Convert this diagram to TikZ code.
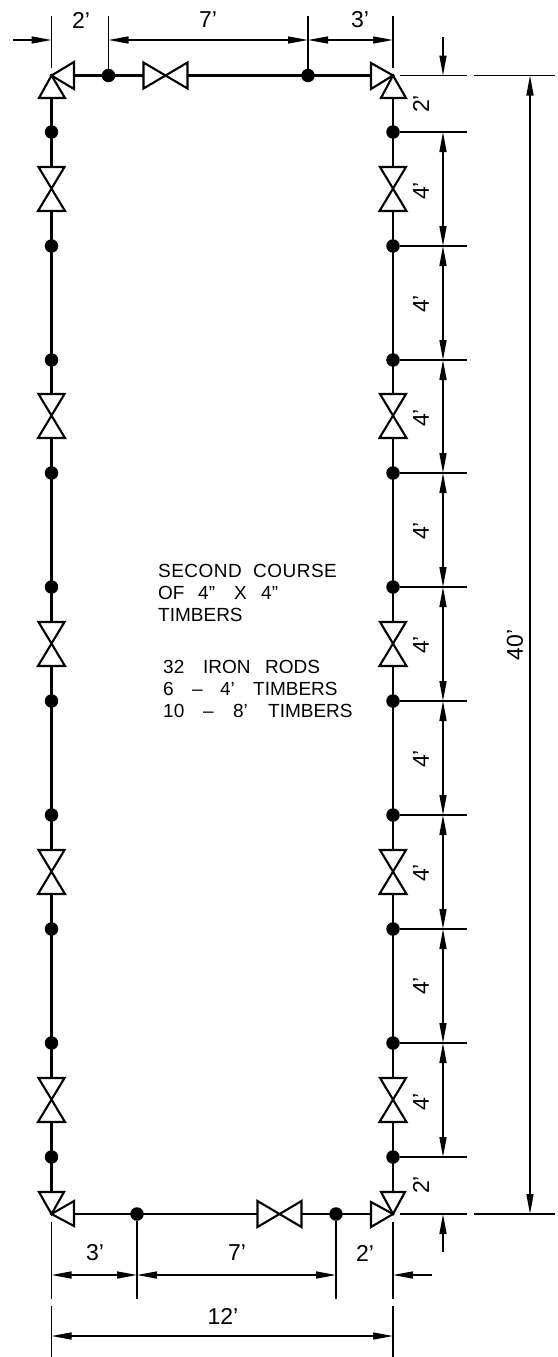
\documentclass[tikz,border=0pt]{standalone}
\usepackage{fontspec}
\setmainfont{Liberation Sans}
\newfontfamily\widefont[LetterSpace=2.5]{Liberation Sans}
\usetikzlibrary{arrows.meta}
\tikzset{
  wall/.style={line width=2.3pt,black},
  ext/.style={line width=1.6pt,black},
  dimline/.style={line width=1.5pt,black,{Triangle[length=20pt,width=7pt]}-{Triangle[length=20pt,width=7pt]}},
  dimend/.style={line width=1.5pt,black,-{Triangle[length=20pt,width=7pt]}},
  dot/.style={circle,fill=black,inner sep=0pt,minimum size=13.5pt},
  lab/.style={font=\fontsize{23}{23}\selectfont,inner sep=0pt},
  note/.style={font=\fontsize{19}{19}\selectfont,inner sep=0pt,anchor=base west,text=black},
  tri/.style={line width=2.1pt,fill=white,draw=black,line join=miter}
}
\newcommand{\vbow}[2]{\draw[tri] (#1-13,#2-22) -- (#1+13,#2-22) -- (#1-13.5,#2+22) -- (#1+13.5,#2+22) -- cycle;}
\newcommand{\hbow}[2]{\draw[tri] (#1-22,#2-13) -- (#1-22,#2+13) -- (#1+22,#2-13) -- (#1+22,#2+13) -- cycle;}
\newcommand{\wrd}[2]{\makebox[#1pt][l]{#2}}
\begin{document}
\begin{tikzpicture}[x=1pt,y=-1pt]
\useasboundingbox[fill=white] (0,0) rectangle (557,1357);
% corners
\coordinate (TL) at (51.5,75.5);
\coordinate (TR) at (393,75.5);
\coordinate (BL) at (51.5,1214);
\coordinate (BR) at (393,1214);
\draw[wall] (TL) -- (TR) -- (BR) -- (BL) -- cycle;
% side dots and horizontal extensions
\foreach \n/\y in {1/132,2/246,3/360,4/473,5/587,6/701,7/815,8/929,9/1043,10/1157}{
  \node[dot] (L\n) at (51.5,\y) {};
  \node[dot] (R\n) at (393,\y) {};
  \coordinate (RE\n) at (467,\y);
  \draw[ext] (R\n) -- (RE\n);
  \coordinate (RD\n) at (443,\y);
}
% top & bottom dots
\node[dot] (T1) at (108.5,75.5) {};
\node[dot] (T2) at (308,75.5) {};
\node[dot] (B1) at (137,1214) {};
\node[dot] (B2) at (336,1214) {};
% valves
\foreach \y in {189,416,644,872,1100}{\vbow{51.5}{\y}\vbow{393}{\y}}
\hbow{165.5}{75.5}
\hbow{279.5}{1214}
% corner triangles
\draw[tri] (51.5,75.5) -- (74,62) -- (74,89) -- cycle;
\draw[tri] (51.5,75.5) -- (39,98) -- (65,98) -- cycle;
\draw[tri] (393,75.5) -- (371,63) -- (371,89) -- cycle;
\draw[tri] (393,75.5) -- (381,98) -- (406,98) -- cycle;
\draw[tri] (51.5,1214) -- (74,1201) -- (74,1226) -- cycle;
\draw[tri] (51.5,1214) -- (39,1192) -- (64,1192) -- cycle;
\draw[tri] (393,1214) -- (371,1202) -- (371,1227) -- cycle;
\draw[tri] (393,1214) -- (381,1192) -- (405,1192) -- cycle;
% top dimensions
\coordinate (x0) at (51.5,16); \coordinate (x0b) at (51.5,68);
\coordinate (x1) at (108.5,16);
\coordinate (x2) at (308,16);
\coordinate (x3) at (393,16); \coordinate (x3b) at (393,68);
\draw[ext] (x0) -- (x0b);
\draw[ext] (x1) -- (T1);
\draw[ext] (x2) -- (T2);
\draw[ext] (x3) -- (x3b);
\coordinate (d0) at (13,40); \coordinate (d1) at (51.5,40); \coordinate (d2) at (108.5,40);
\coordinate (d3) at (308,40); \coordinate (d4) at (393,40);
\draw[dimend] (d0) -- (d1);
\draw[dimline] (d2) -- (d3);
\draw[dimline] (d3) -- (d4);
\node[lab] (l2a) at (81,20) {2'};
\node[lab] (l7a) at (208,20) {7'};
\node[lab] (l3a) at (360,20) {3'};
% right extension at corners
\coordinate (e1a) at (400,75.5); \coordinate (e1b) at (467,75.5);
\coordinate (e2a) at (474,75.5); \coordinate (e2b) at (555,75.5);
\coordinate (e3a) at (400,1214); \coordinate (e3b) at (467,1214);
\coordinate (e4a) at (474,1214); \coordinate (e4b) at (555,1214);
\draw[ext] (e1a) -- (e1b); \draw[ext] (e2a) -- (e2b);
\draw[ext] (e3a) -- (e3b); \draw[ext] (e4a) -- (e4b);
% right dims
\coordinate (a0) at (443,37); \coordinate (a1) at (443,75.5);
\draw[dimend] (a0) -- (a1);
\coordinate (a2) at (443,1252); \coordinate (a3) at (443,1214);
\draw[dimend] (a2) -- (a3);
\foreach \a/\b in {1/2,2/3,3/4,4/5,5/6,6/7,7/8,8/9,9/10}{
  \draw[dimline] (RD\a) -- (RD\b);
}
\coordinate (o1) at (530,75.5); \coordinate (o2) at (530,1214);
\draw[dimline] (o1) -- (o2);
\node[lab,rotate=90] (l40) at (515,645) {40'};
\node[lab,rotate=90] (ltop2) at (421,104) {2'};
\node[lab,rotate=90] (lbot2) at (421,1185) {2'};
\foreach \n/\y in {a/191,b/304,c/418,d/531,e/645,f/759,g/873,h/986,i/1102}{
  \node[lab,rotate=90] (l4\n) at (421,\y) {4'};
}
% bottom dims
\coordinate (b0a) at (51.5,1222); \coordinate (b0b) at (51.5,1299);
\coordinate (b1b) at (137,1299);
\coordinate (b2b) at (336,1299);
\coordinate (b3a) at (393,1222); \coordinate (b3b) at (393,1299);
\draw[ext] (b0a) -- (b0b);
\draw[ext] (B1) -- (b1b);
\draw[ext] (B2) -- (b2b);
\draw[ext] (b3a) -- (b3b);
\coordinate (c0) at (51.5,1275); \coordinate (c1) at (137,1275); \coordinate (c2) at (336,1275);
\coordinate (c3) at (393,1275); \coordinate (c4) at (432,1275);
\draw[dimline] (c0) -- (c1);
\draw[dimline] (c1) -- (c2);
\draw[dimend] (c4) -- (c3);
\node[lab] (l3b) at (95,1253) {3'};
\node[lab] (l7b) at (237,1253) {7'};
\node[lab] (l2b) at (365,1253) {2'};
\coordinate (f0a) at (51.5,1306); \coordinate (f0b) at (51.5,1357);
\coordinate (f1a) at (393,1306); \coordinate (f1b) at (393,1357);
\draw[ext] (f0a) -- (f0b); \draw[ext] (f1a) -- (f1b);
\coordinate (g0) at (51.5,1336); \coordinate (g1) at (393,1336);
\draw[dimline] (g0) -- (g1);
\node[lab] (l12) at (223,1316) {12'};
% notes
\node[note] (n1) at (158,577) {\widefont\wrd{95}{SECOND}COURSE};
\node[note] (n2) at (158,599) {\wrd{40}{OF}\wrd{36}{4"}\wrd{27}{X}4"};
\node[note] (n3) at (158,621) {TIMBERS};
\node[note] (n4) at (163,673) {\wrd{40}{32}\wrd{62}{IRON}RODS};
\node[note] (n5) at (163,695) {\wrd{29}{6}\wrd{28}{--}\wrd{33}{4'}TIMBERS};
\node[note] (n6) at (163,717) {\wrd{40}{10}\wrd{30}{--}\wrd{35}{8'}TIMBERS};
\end{tikzpicture}
\end{document}
